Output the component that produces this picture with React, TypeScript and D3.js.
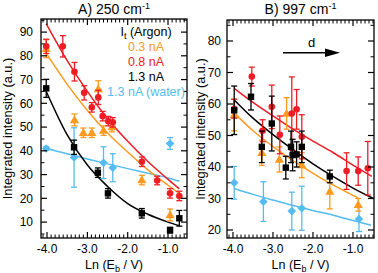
import React from 'react';
import * as d3 from 'd3';

const W = 378;
const H = 273;
const FONT = '"Liberation Sans", Arial, Helvetica, sans-serif';

const ORANGE = '#ff9a1e';
const RED = '#ee1c25';
const BLACK = '#000000';
const BLUE = '#55bcef';

// ---- Panel A: 250 cm-1 ----
const aRedX = [-4.02, -3.61, -3.32, -3.08, -2.89, -2.73, -2.62, -2.48, -2.37, -1.65, -1.27, -0.95, -0.72];
const aRedY = [84, 84, 73.3, 64.4, 58.3, 62.5, 54.6, 52.5, 52, 35.4, 27.5, 22.1, 21];
const aRedE = [3, 4.5, 3.9, 3, 2, 3, 2, 2, 2, 2, 1.8, 2, 2];

const aOrangeX = [-4.02, -3.32, -3.1, -2.89, -2.73, -2.6, -2.39, -1.65, -0.95];
const aOrangeY = [83, 53, 47.6, 47.6, 66, 48.5, 50, 27.7, 13];
const aOrangeE = [3.8, 2.5, 2, 2, 3.5, 2, 2, 2, 2.5];

const aBlackX = [-4.02, -3.33, -2.74, -2.49, -1.65, -0.95, -0.72];
const aBlackY = [66.3, 41.5, 30.8, 22.1, 13.7, 6.6, 11.6];
const aBlackE = [3.8, 3, 2, 2, 2, 1.2, 3.3];

const aBlueX = [-4.02, -3.33, -2.6, -2.37, -0.95];
const aBlueY = [41, 37.2, 35, 32.9, 43.1];
const aBlueE = [0.8, 12.5, 6.7, 5.9, 2.5];

// fitted curves
const aFitX = [-4.02, -3.5, -3.0, -2.5, -2.0, -1.5, -1.0, -0.72];
const aRedFit = [93.5, 78, 65, 53.5, 44, 35.5, 28, 24];
const aOrangeFit = [81, 68, 57, 47.5, 39.5, 32, 25.5, 22];
const aBlackFit = [65, 46.7, 34, 25, 17.8, 13.3, 10, 8.5];
const aBlueFit = [41, 38.8, 36.6, 34.5, 32.5, 30.6, 28.6, 27.2];

// ---- Panel B: 997 cm-1 ----
const bRedX = [-3.97, -3.53, -3.26, -3.03, -2.83, -2.53, -2.41, -2.28, -1.16, -0.87, -0.63];
const bRedY = [58.5, 68.7, 51.5, 59.1, 50.2, 57, 58.3, 49.6, 38.7, 38.7, 39.6];
const bRedE = [3, 3, 3.5, 6.9, 6, 11.6, 6.3, 7, 5.8, 4.5, 8.5];

const bBlackX = [-3.97, -3.55, -3.28, -3.03, -2.68, -2.55, -2.51, -2.41, -2.28, -1.58];
const bBlackY = [58, 62.3, 46.4, 53.8, 39.8, 46.4, 43.8, 44, 46.4, 37];
const bBlackE = [7.7, 4.2, 5, 8.7, 3.6, 5, 5, 4, 5, 2];

const bOrangeX = [-3.97, -3.28, -2.84, -2.66, -2.28, -1.58, -0.87];
const bOrangeY = [56.5, 44.5, 42.4, 57, 40.6, 32.2, 28];
const bOrangeE = [5, 4, 4, 5, 4, 5.5, 2];

const bBlueX = [-3.97, -3.24, -2.53, -2.28, -0.85];
const bBlueY = [35, 29, 26, 26.9, 23.5];
const bBlueE = [5.2, 6.3, 6, 7, 4];

const bRedFitX = [-3.97, -3.5, -3.0, -2.5, -2.0, -1.5, -1.0, -0.53];
const bRedFit = [65, 60.5, 56.2, 52, 48.2, 44.6, 40.6, 37];
const bBlackFitX = [-3.97, -3.5, -3.0, -2.5, -2.0, -1.5, -1.0, -0.49];
const bBlackFit = [61.3, 55.5, 50.3, 45.5, 41, 37, 33.3, 30];
const bOrangeFitX = [-3.97, -3.5, -3.0, -2.5, -2.0, -1.5, -1.0, -0.87];
const bOrangeFit = [57.2, 51.5, 46.5, 42, 38, 34.3, 31, 30.2];
const bBlueFitX = [-3.97, -3.5, -3.0, -2.5, -2.0, -1.5, -1.0, -0.55];
const bBlueFit = [33.2, 31.3, 29.5, 27.8, 26.2, 24.7, 23, 21.5];

const xMajor = [-4, -3, -2, -1];
const xMajorLabels = ['-4.0', '-3.0', '-2.0', '-1.0'];
const aYMajor = [10, 20, 30, 40, 50, 60, 70, 80, 90];
const bYMajor = [20, 30, 40, 50, 60, 70, 80];

const legendItems = [
  { text: '0.3 nA', color: ORANGE },
  { text: '0.8 nA', color: RED },
  { text: '1.3 nA', color: BLACK },
  { text: '1.3 nA (water)', color: BLUE },
];

type Shape = 'circle' | 'square' | 'triangle' | 'diamond';
type Series = {
  x: number[]; y: number[]; e: number[];
  fitX: number[]; fitY: number[];
  color: string; shape: Shape;
};

const Marker = ({ shape, cx, cy, color }: { shape: Shape; cx: number; cy: number; color: string }) => {
  if (shape === 'circle') return <circle cx={cx} cy={cy} r={3.3} fill={color} />;
  if (shape === 'square') return <rect x={cx - 3.2} y={cy - 3.2} width={6.4} height={6.4} fill={color} />;
  if (shape === 'triangle') {
    return <polygon points={`${cx},${cy - 4.8} ${cx + 4.6},${cy + 3.2} ${cx - 4.6},${cy + 3.2}`} fill={color} />;
  }
  return <polygon points={`${cx},${cy - 4.3} ${cx + 4.3},${cy} ${cx},${cy + 4.3} ${cx - 4.3},${cy}`} fill={color} />;
};

const Panel = ({ left, right, top, bottom, xDomain, yDomain, yMajor, series, title, yLabelEnd, yTitleX, children }: any) => {
  const x = d3.scaleLinear().domain(xDomain).range([left, right]);
  const y = d3.scaleLinear().domain(yDomain).range([bottom, top]);
  const cx = (left + right) / 2;
  const cy = (top + bottom) / 2;

  const xMinor = d3.range(Math.ceil(xDomain[0] * 10), Math.floor(xDomain[1] * 10) + 1)
    .map(i => i / 10)
    .filter(v => Math.abs(v - Math.round(v)) > 1e-6);
  const yMinor = d3.range(Math.ceil(yDomain[0] / 5), Math.floor(yDomain[1] / 5) + 1)
    .map(i => i * 5)
    .filter(v => v % 10 !== 0);

  const line = d3.line<number>()
    .curve(d3.curveMonotoneX);

  const s = (v: number) => Math.round(v * 10) / 10;

  return (
    <g>
      {/* title */}
      <text x={cx} y={14} textAnchor="middle" fontSize={14} fontFamily={FONT}>
        {title}<tspan> cm</tspan><tspan fontSize={9} dy={-5.5}>-1</tspan>
      </text>

      {/* fits */}
      {series.map((sr: Series, i: number) => (
        <path key={'f' + i}
          d={line(sr.fitX.map((xv, j) => [x(xv), y(sr.fitY[j])]) as any) || ''}
          fill="none" stroke={sr.color} strokeWidth={1.5} />
      ))}

      {/* error bars and markers */}
      {series.map((sr: Series, i: number) => (
        <g key={'s' + i}>
          {sr.x.map((xv, j) => {
            const px = x(xv);
            const y1 = y(sr.y[j] + sr.e[j]);
            const y2 = y(sr.y[j] - sr.e[j]);
            return (
              <g key={j} stroke={sr.color} strokeWidth={1.3}>
                <line x1={px} x2={px} y1={y1} y2={y2} />
                <line x1={px - 3} x2={px + 3} y1={y1} y2={y1} />
                <line x1={px - 3} x2={px + 3} y1={y2} y2={y2} />
              </g>
            );
          })}
          {sr.x.map((xv, j) => (
            <Marker key={'m' + j} shape={sr.shape} cx={x(xv)} cy={y(sr.y[j])} color={sr.color} />
          ))}
        </g>
      ))}

      {/* frame */}
      <rect x={left} y={top} width={right - left} height={bottom - top} fill="none" stroke="#000" strokeWidth={1.3} />

      {/* x ticks (bottom + mirrored top) */}
      {xMajor.map(v => (
        <g key={'xM' + v} stroke="#000" strokeWidth={1.2}>
          <line x1={s(x(v))} x2={s(x(v))} y1={bottom} y2={bottom - 6} />
          <line x1={s(x(v))} x2={s(x(v))} y1={top} y2={top + 6} />
        </g>
      ))}
      {xMinor.map(v => (
        <g key={'xm' + v} stroke="#000" strokeWidth={1}>
          <line x1={s(x(v))} x2={s(x(v))} y1={bottom} y2={bottom - 3.5} />
          <line x1={s(x(v))} x2={s(x(v))} y1={top} y2={top + 3.5} />
        </g>
      ))}
      {xMajor.map((v, i) => (
        <text key={'xl' + v} x={x(v)} y={253} textAnchor="middle" fontSize={12} fontFamily={FONT}>
          {xMajorLabels[i]}
        </text>
      ))}

      {/* y ticks (left + mirrored right) */}
      {yMajor.map((v: number) => (
        <g key={'yM' + v} stroke="#000" strokeWidth={1.2}>
          <line x1={left} x2={left + 6} y1={s(y(v))} y2={s(y(v))} />
          <line x1={right} x2={right - 6} y1={s(y(v))} y2={s(y(v))} />
        </g>
      ))}
      {yMinor.map(v => (
        <g key={'ym' + v} stroke="#000" strokeWidth={1}>
          <line x1={left} x2={left + 3.5} y1={s(y(v))} y2={s(y(v))} />
          <line x1={right} x2={right - 3.5} y1={s(y(v))} y2={s(y(v))} />
        </g>
      ))}
      {yMajor.map((v: number) => (
        <text key={'yl' + v} x={yLabelEnd} y={y(v) + 4.3} textAnchor="end" fontSize={12} fontFamily={FONT}>
          {v}
        </text>
      ))}

      {/* axis titles */}
      <text x={cx} y={269} textAnchor="middle" fontSize={12.5} fontFamily={FONT}>
        Ln (E<tspan fontSize={9} dy={3}>b</tspan><tspan dy={-3}> / V)</tspan>
      </text>
      <text transform={`translate(${yTitleX},${cy}) rotate(-90)`} textAnchor="middle" fontSize={12.8} fontFamily={FONT}>
        Integrated intensity (a.u.)
      </text>

      {children}
    </g>
  );
};

export default function App() {
  const seriesA: Series[] = [
    { x: aBlueX, y: aBlueY, e: aBlueE, fitX: aFitX, fitY: aBlueFit, color: BLUE, shape: 'diamond' },
    { x: aOrangeX, y: aOrangeY, e: aOrangeE, fitX: aFitX, fitY: aOrangeFit, color: ORANGE, shape: 'triangle' },
    { x: aRedX, y: aRedY, e: aRedE, fitX: aFitX, fitY: aRedFit, color: RED, shape: 'circle' },
    { x: aBlackX, y: aBlackY, e: aBlackE, fitX: aFitX, fitY: aBlackFit, color: BLACK, shape: 'square' },
  ];
  const seriesB: Series[] = [
    { x: bBlueX, y: bBlueY, e: bBlueE, fitX: bBlueFitX, fitY: bBlueFit, color: BLUE, shape: 'diamond' },
    { x: bOrangeX, y: bOrangeY, e: bOrangeE, fitX: bOrangeFitX, fitY: bOrangeFit, color: ORANGE, shape: 'triangle' },
    { x: bRedX, y: bRedY, e: bRedE, fitX: bRedFitX, fitY: bRedFit, color: RED, shape: 'circle' },
    { x: bBlackX, y: bBlackY, e: bBlackE, fitX: bBlackFitX, fitY: bBlackFit, color: BLACK, shape: 'square' },
  ];

  const legendX = 146;

  return (
    <svg width={W} height={H} viewBox={`0 0 ${W} ${H}`}
      style={{ position: 'absolute', left: 0, top: 0, background: '#fff' }}>
      <Panel left={41} right={187} top={19} bottom={238}
        xDomain={[-4.15, -0.53]} yDomain={[3.3, 95.5]} yMajor={aYMajor}
        series={seriesA} title="A) 250" yLabelEnd={33} yTitleX={12}>
        <text x={legendX} y={36} textAnchor="middle" fontSize={12.5} fontFamily={FONT}>
          I<tspan fontSize={9} dy={3}>t</tspan><tspan dy={-3}> (Argon)</tspan>
        </text>
        {legendItems.map((it, i) => (
          <text key={it.text} x={legendX} y={51 + i * 15} textAnchor="middle" fontSize={12.5}
            fontFamily={FONT} fill={it.color}>{it.text}</text>
        ))}
      </Panel>
      <Panel left={227} right={374} top={20} bottom={238}
        xDomain={[-4.15, -0.475]} yDomain={[17.46, 86.67]} yMajor={bYMajor}
        series={seriesB} title="B) 997" yLabelEnd={221} yTitleX={205}>
        <line x1={283} x2={330} y1={52.7} y2={52.7} stroke="#000" strokeWidth={1.5} />
        <polygon points="340,52.7 325,48.5 325,56.9" fill="#000" />
        <text x={311.7} y={47} textAnchor="middle" fontSize={13} fontFamily={FONT}>d</text>
      </Panel>
    </svg>
  );
}
